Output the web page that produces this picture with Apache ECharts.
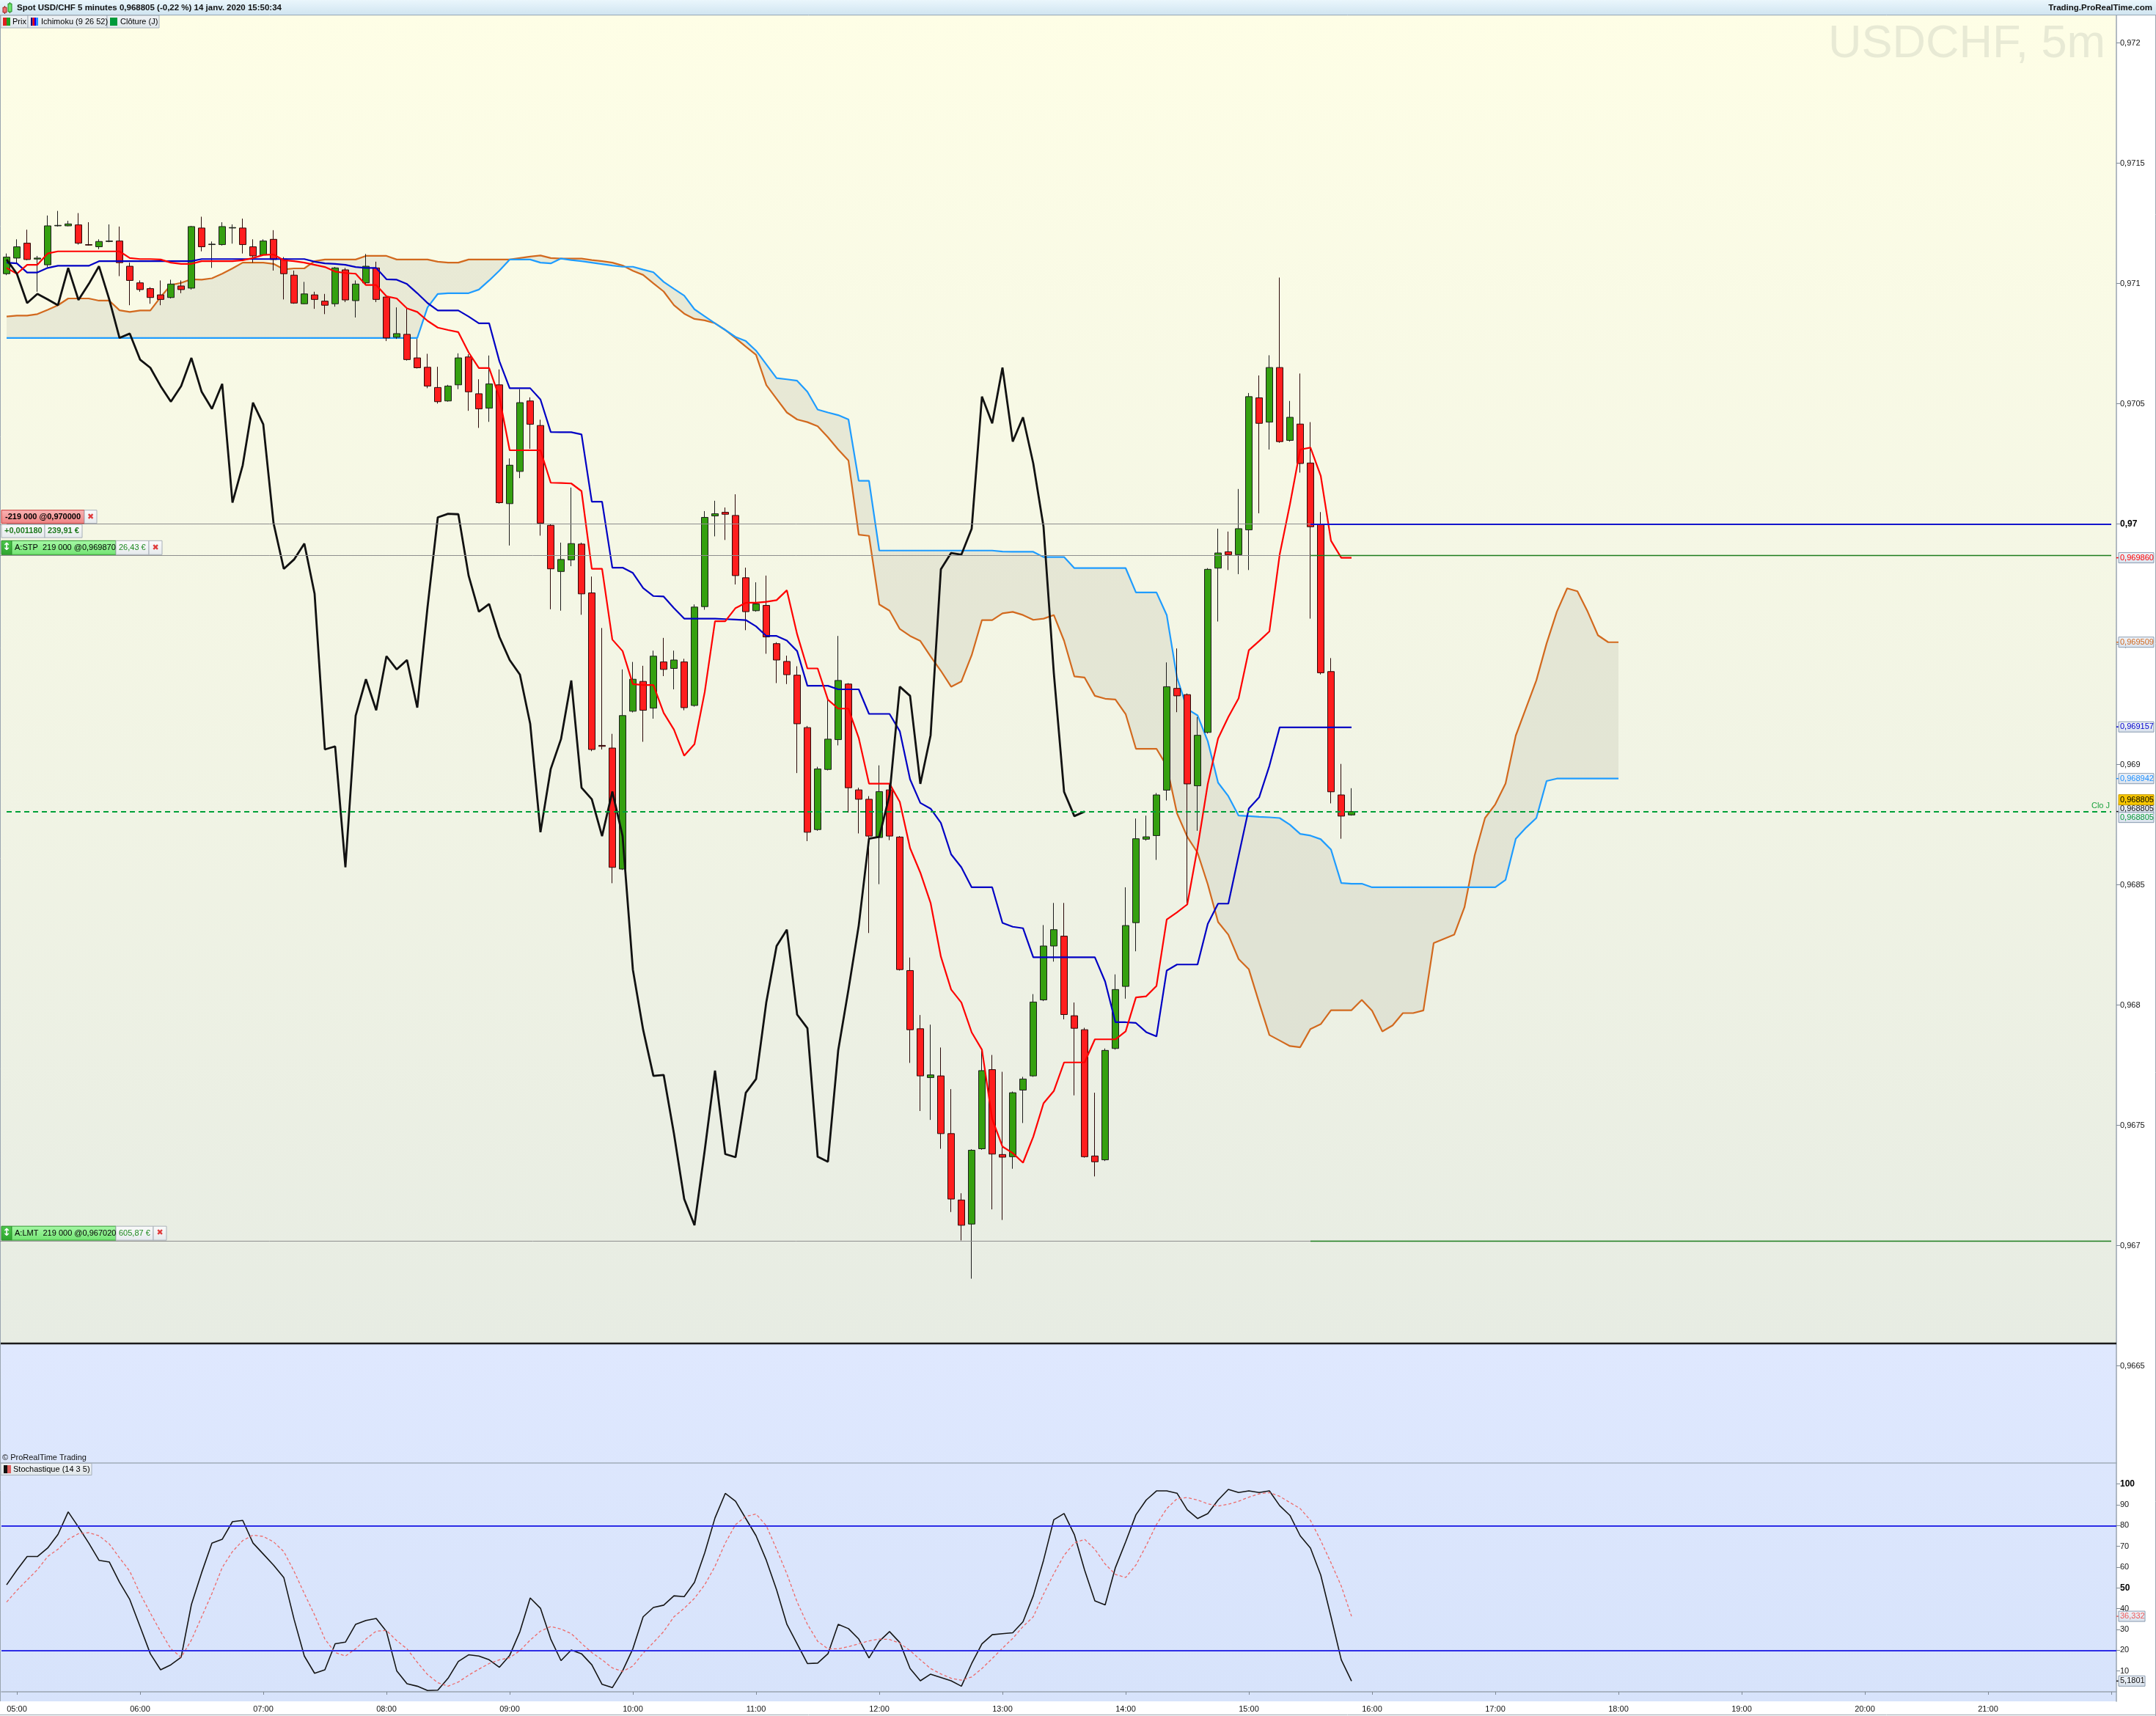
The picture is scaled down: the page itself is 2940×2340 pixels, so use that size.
<!DOCTYPE html>
<html><head><meta charset="utf-8">
<script src="https://cdn.jsdelivr.net/npm/echarts@6/dist/echarts.min.js"></script>
<style>html,body{margin:0;padding:0;background:#fff;}#c{width:2940px;height:2340px;}</style>
</head><body><div id="c"></div>
<script>
// ---------- DATA ----------
const opens = [0.971041,0.971106,0.971168,0.971102,0.971078,0.971240,0.971240,0.971244,0.971162,0.971153,0.971175,0.971177,
0.971072,0.971003,0.970979,0.970953,0.970942,0.970990,0.970981,0.971231,0.971162,0.971162,0.971231,0.971231,
0.971153,0.971119,0.971184,0.971102,0.971035,0.970916,0.970953,0.970927,0.970916,0.971057,0.970929,0.971003,
0.971065,0.970944,0.970777,0.970789,0.970691,0.970652,0.970568,0.970512,0.970579,0.970695,0.970542,0.970482,
0.970579,0.970085,0.970219,0.970512,0.970410,0.969995,0.969803,0.969851,0.969917,0.969714,0.969080,0.969069,
0.968566,0.969222,0.969346,0.969235,0.969427,0.969400,0.969427,0.969246,0.969657,0.970034,0.970049,0.970036,
0.969777,0.969640,0.969662,0.969503,0.969429,0.969372,0.969154,0.968730,0.968980,0.969104,0.969335,0.968895,
0.968856,0.968697,0.968895,0.968699,0.968144,0.967902,0.967699,0.967706,0.967466,0.967190,0.967090,0.967403,
0.967732,0.967379,0.967370,0.967647,0.967706,0.968022,0.968246,0.968287,0.967956,0.967898,0.967373,0.967357,
0.967820,0.968078,0.968343,0.968690,0.968705,0.968894,0.969317,0.969291,0.968912,0.969134,0.969817,0.969885,
0.969873,0.969976,0.970525,0.970424,0.970651,0.970348,0.970416,0.970254,0.969999,0.969387,0.968874,0.968791];
const closes = [0.971110,0.971153,0.971100,0.971106,0.971240,0.971242,0.971248,0.971168,0.971160,0.971175,0.971177,0.971087,
0.971013,0.970975,0.970942,0.970934,0.970998,0.970975,0.971237,0.971153,0.971164,0.971237,0.971233,0.971162,
0.971115,0.971177,0.971100,0.971041,0.970919,0.970957,0.970934,0.970910,0.971065,0.970932,0.970998,0.971072,
0.970934,0.970774,0.970792,0.970684,0.970650,0.970574,0.970509,0.970574,0.970691,0.970550,0.970479,0.970583,
0.970089,0.970245,0.970505,0.970415,0.970004,0.969814,0.969853,0.969919,0.969710,0.969063,0.969076,0.968573,
0.969204,0.969355,0.969226,0.969451,0.969396,0.969435,0.969237,0.969655,0.970028,0.970043,0.970041,0.969786,
0.969636,0.969668,0.969531,0.969435,0.969374,0.969170,0.968719,0.968982,0.969106,0.969350,0.968904,0.968856,
0.968703,0.968888,0.968703,0.968148,0.967898,0.967706,0.967710,0.967466,0.967194,0.967085,0.967397,0.967728,
0.967381,0.967368,0.967636,0.967693,0.968013,0.968246,0.968314,0.967961,0.967904,0.967370,0.967349,0.967812,
0.968065,0.968331,0.968692,0.968700,0.968874,0.969324,0.969286,0.968920,0.969122,0.969812,0.969880,0.969873,
0.969981,0.970530,0.970419,0.970651,0.970343,0.970444,0.970252,0.969989,0.969382,0.968887,0.968786,0.968805];
const lows = [0.971035,0.971087,0.971097,0.970966,0.971069,0.971237,0.971238,0.971162,0.971158,0.971143,0.971172,0.971031,
0.970910,0.970966,0.970916,0.970910,0.970938,0.970960,0.970975,0.971134,0.971065,0.971158,0.971166,0.971125,
0.971087,0.971115,0.971054,0.970934,0.970916,0.970914,0.970895,0.970873,0.970904,0.970923,0.970859,0.970998,
0.970923,0.970761,0.970770,0.970680,0.970647,0.970565,0.970501,0.970509,0.970561,0.970471,0.970400,0.970425,
0.970085,0.969911,0.970191,0.970313,0.969952,0.969646,0.969640,0.969825,0.969623,0.969056,0.969063,0.968507,
0.968562,0.969217,0.969095,0.969191,0.969368,0.969313,0.969226,0.969241,0.969644,0.969949,0.969934,0.969749,
0.969559,0.969636,0.969461,0.969339,0.969335,0.968965,0.968682,0.968725,0.968976,0.969080,0.968801,0.968714,
0.968300,0.968503,0.968686,0.968144,0.967760,0.967560,0.967523,0.967403,0.967140,0.967022,0.966863,0.967399,
0.967151,0.967107,0.967320,0.967510,0.967702,0.968017,0.968181,0.967941,0.967625,0.967366,0.967288,0.967352,
0.967815,0.968027,0.968224,0.968684,0.968604,0.968851,0.969218,0.968414,0.968725,0.969129,0.969595,0.969809,
0.969792,0.969809,0.970045,0.970310,0.970338,0.970343,0.970214,0.969607,0.969375,0.968839,0.968692,0.968788];
const highs = [0.971125,0.971184,0.971224,0.971115,0.971283,0.971302,0.971261,0.971293,0.971255,0.971184,0.971246,0.971237,
0.971087,0.971013,0.970985,0.971013,0.971016,0.971013,0.971240,0.971278,0.971175,0.971255,0.971246,0.971270,
0.971184,0.971184,0.971222,0.971110,0.971054,0.971007,0.970966,0.970957,0.971069,0.971065,0.971013,0.971123,
0.971091,0.970947,0.970901,0.970897,0.970770,0.970708,0.970654,0.970579,0.970710,0.970706,0.970602,0.970701,
0.970643,0.970273,0.970561,0.970527,0.970434,0.969999,0.969923,0.970152,0.969923,0.969782,0.969568,0.969128,
0.969396,0.969427,0.969411,0.969474,0.969527,0.969474,0.969440,0.969666,0.970054,0.970097,0.970069,0.970124,
0.969819,0.969758,0.969786,0.969509,0.969453,0.969409,0.969161,0.968991,0.969276,0.969535,0.969339,0.968904,
0.968869,0.968997,0.968921,0.968703,0.968198,0.967959,0.967919,0.967824,0.967651,0.967218,0.967401,0.967815,
0.967793,0.967723,0.967641,0.967702,0.968046,0.968333,0.968425,0.968425,0.968011,0.967906,0.967636,0.967820,
0.968128,0.968490,0.968776,0.968788,0.968882,0.969425,0.969483,0.969296,0.969198,0.969817,0.969981,0.969969,
0.970146,0.970545,0.970618,0.970702,0.971025,0.970512,0.970626,0.970424,0.970050,0.969443,0.969003,0.968902];

const tenkan = [0.971065,0.971041,0.971078,0.971078,0.971125,0.971134,0.971134,0.971134,0.971134,0.971134,0.971134,0.971134,
0.971106,0.971102,0.971102,0.971100,0.971087,0.971082,0.971082,0.971093,0.971093,0.971093,0.971093,0.971097,
0.971106,0.971119,0.971121,0.971097,0.971093,0.971087,0.971078,0.971069,0.971050,0.971044,0.971041,0.970994,
0.970994,0.970947,0.970938,0.970897,0.970882,0.970845,0.970817,0.970807,0.970798,0.970714,0.970649,0.970649,
0.970527,0.970307,0.970307,0.970307,0.970307,0.970172,0.970171,0.970169,0.970137,0.969814,0.969814,0.969520,
0.969472,0.969335,0.969331,0.969331,0.969215,0.969146,0.969037,0.969085,0.969302,0.969596,0.969596,0.969651,
0.969673,0.969673,0.969677,0.969684,0.969725,0.969542,0.969400,0.969400,0.969270,0.969233,0.969233,0.969111,
0.968921,0.968921,0.968921,0.968845,0.968653,0.968551,0.968425,0.968202,0.968065,0.968011,0.967887,0.967815,
0.967527,0.967412,0.967385,0.967345,0.967453,0.967592,0.967643,0.967762,0.967762,0.967762,0.967858,0.967858,
0.967858,0.967891,0.968032,0.968037,0.968080,0.968356,0.968386,0.968419,0.968654,0.968920,0.969109,0.969198,
0.969276,0.969476,0.969514,0.969554,0.969873,0.970082,0.970310,0.970318,0.970201,0.969931,0.969860,0.969860];
const kijun = [0.971087,0.971084,0.971046,0.971046,0.971065,0.971074,0.971074,0.971074,0.971074,0.971093,0.971093,0.971093,
0.971093,0.971093,0.971093,0.971093,0.971093,0.971093,0.971093,0.971102,0.971102,0.971102,0.971102,0.971102,
0.971102,0.971102,0.971102,0.971102,0.971102,0.971102,0.971091,0.971084,0.971082,0.971078,0.971069,0.971065,
0.971065,0.971018,0.971016,0.970998,0.970960,0.970919,0.970888,0.970888,0.970888,0.970863,0.970835,0.970835,
0.970677,0.970565,0.970565,0.970565,0.970518,0.970383,0.970382,0.970382,0.970373,0.970093,0.970093,0.969819,
0.969819,0.969797,0.969734,0.969701,0.969699,0.969651,0.969607,0.969607,0.969607,0.969607,0.969605,0.969603,
0.969601,0.969575,0.969535,0.969535,0.969516,0.969472,0.969328,0.969328,0.969328,0.969313,0.969313,0.969313,
0.969211,0.969211,0.969211,0.969139,0.968939,0.968841,0.968817,0.968758,0.968627,0.968573,0.968490,0.968490,
0.968490,0.968342,0.968326,0.968320,0.968199,0.968199,0.968199,0.968199,0.968199,0.968199,0.968199,0.968098,
0.967929,0.967929,0.967926,0.967888,0.967870,0.968144,0.968169,0.968169,0.968169,0.968338,0.968422,0.968422,
0.968621,0.968818,0.968864,0.968995,0.969155,0.969155,0.969155,0.969155,0.969155,0.969155,0.969155,0.969155];
const senkouA = [0.970863,0.970867,0.970867,0.970873,0.970891,0.970910,0.970938,0.970938,0.970938,0.970929,0.970929,0.970889,
0.970882,0.970888,0.970888,0.970944,0.970994,0.971003,0.971018,0.971016,0.971022,0.971041,0.971063,0.971087,
0.971087,0.971087,0.971082,0.971059,0.971063,0.971063,0.971093,0.971100,0.971100,0.971100,0.971100,0.971115,
0.971115,0.971115,0.971100,0.971100,0.971100,0.971100,0.971091,0.971087,0.971087,0.971100,0.971100,0.971100,
0.971100,0.971100,0.971106,0.971112,0.971117,0.971106,0.971104,0.971104,0.971104,0.971098,0.971093,0.971087,
0.971075,0.971053,0.971036,0.971001,0.970967,0.970910,0.970875,0.970853,0.970847,0.970835,0.970807,0.970773,
0.970738,0.970704,0.970578,0.970521,0.970464,0.970435,0.970424,0.970407,0.970361,0.970310,0.970264,0.969956,
0.969951,0.969666,0.969640,0.969564,0.969535,0.969514,0.969450,0.969390,0.969324,0.969346,0.969455,0.969601,
0.969601,0.969629,0.969635,0.969622,0.969602,0.969607,0.969622,0.969515,0.969367,0.969362,0.969286,0.969274,
0.969271,0.969210,0.969066,0.969066,0.969066,0.968995,0.968798,0.968700,0.968634,0.968502,0.968346,0.968293,
0.968192,0.968149,0.968010,0.967876,0.967853,0.967830,0.967825,0.967901,0.967921,0.967979,0.967979,0.967979,
0.968022,0.967977,0.967891,0.967916,0.967967,0.967967,0.967978,0.968258,0.968276,0.968293,0.968407,0.968624,
0.968778,0.968835,0.968921,0.969121,0.969236,0.969350,0.969504,0.969636,0.969733,0.969721,0.969636,0.969538,
0.969509,0.969509];
const senkouB = [0.970774,0.970774,0.970774,0.970774,0.970774,0.970774,0.970774,0.970774,0.970774,0.970774,0.970774,0.970774,
0.970774,0.970774,0.970774,0.970774,0.970774,0.970774,0.970774,0.970774,0.970774,0.970774,0.970774,0.970774,
0.970774,0.970774,0.970774,0.970774,0.970774,0.970774,0.970774,0.970774,0.970774,0.970774,0.970774,0.970774,
0.970774,0.970774,0.970774,0.970774,0.970774,0.970901,0.970957,0.970960,0.970960,0.970960,0.970975,0.971013,
0.971054,0.971100,0.971100,0.971100,0.971087,0.971084,0.971104,0.971098,0.971093,0.971087,0.971081,0.971075,
0.971070,0.971070,0.971058,0.971047,0.971007,0.970978,0.970950,0.970893,0.970864,0.970835,0.970807,0.970778,
0.970761,0.970721,0.970664,0.970607,0.970602,0.970596,0.970550,0.970476,0.970464,0.970453,0.970435,0.970180,
0.970180,0.969890,0.969890,0.969890,0.969890,0.969890,0.969890,0.969890,0.969890,0.969890,0.969890,0.969890,
0.969890,0.969886,0.969885,0.969885,0.969885,0.969863,0.969863,0.969863,0.969817,0.969817,0.969817,0.969817,
0.969817,0.969817,0.969716,0.969716,0.969716,0.969622,0.969362,0.969231,0.969205,0.969097,0.968925,0.968869,
0.968788,0.968786,0.968783,0.968781,0.968778,0.968750,0.968712,0.968705,0.968690,0.968647,0.968508,0.968505,
0.968505,0.968490,0.968490,0.968490,0.968490,0.968490,0.968490,0.968490,0.968490,0.968490,0.968490,0.968490,
0.968490,0.968490,0.968521,0.968692,0.968738,0.968778,0.968932,0.968942,0.968942,0.968942,0.968942,0.968942,
0.968942,0.968942];

const stochK = [51.5,58.6,65.1,65.1,69.2,75.7,86.6,79.3,71.6,63.3,62.5,52.7,
44.4,31.4,18.3,10.6,13.0,16.6,42.0,57.4,71.6,73.4,81.9,82.5,
71.6,66.3,61.0,55.0,34.9,17.2,8.9,10.6,23.1,23.9,32.5,34.3,
35.3,29.0,10.1,3.9,2.7,0.6,0.8,6.5,14.6,17.8,17.2,15.4,
11.8,17.5,29.0,45.2,40.2,25.4,15.0,20.1,18.3,13.0,3.6,2.0,
10.1,20.7,36.1,40.6,41.7,46.2,45.8,52.7,66.9,83.7,95.5,91.7,
83.4,75.1,63.3,49.1,32.5,23.1,13.6,13.8,18.3,32.5,30.4,25.4,
16.3,24.3,29.0,23.7,11.2,5.3,8.5,6.9,5.3,2.7,13.6,23.1,
27.5,28.0,28.4,33.7,46.2,63.3,82.8,85.8,75.7,58.6,43.8,41.8,
59.8,72.2,85.2,92.3,96.7,96.7,95.6,87.6,83.4,85.8,92.3,97.4,
95.9,96.7,95.9,96.7,89.6,84.9,75.1,69.2,56.2,36.1,15.4,5.1801];
const stochD = [43.2,48.8,53.8,58.8,65.1,68.6,73.4,76.1,76.6,75.1,71.2,64.5,
58.0,47.3,37.9,29.0,20.7,16.6,24.9,36.1,47.3,59.8,67.5,72.8,
75.4,74.8,72.2,67.5,58.0,47.3,37.0,25.4,18.9,17.2,20.7,25.4,
29.2,29.5,24.6,20.7,14.2,8.3,4.4,2.7,4.7,8.0,10.9,13.6,
15.4,16.4,19.8,24.9,29.2,31.4,30.2,28.0,23.3,18.9,15.4,11.5,
9.8,12.4,18.6,23.7,29.0,36.1,40.2,45.0,51.5,60.4,71.6,80.5,
84.4,85.6,79.9,68.6,56.8,43.2,32.5,24.3,20.7,20.7,21.7,23.1,
24.5,25.4,25.2,23.4,19.8,15.4,11.2,8.6,6.5,5.6,7.1,11.2,
16.0,21.0,25.7,31.4,36.1,47.0,56.8,65.7,71.6,73.4,68.6,61.5,
56.5,55.0,61.0,70.4,80.5,88.2,92.9,93.5,92.3,90.5,89.4,90.3,
91.7,93.7,95.3,95.9,94.1,91.1,88.2,82.5,72.8,62.1,50.9,36.332];

const priceTicks = [0.9665,0.967,0.9675,0.968,0.9685,0.969,0.9695,0.97,0.9705,0.971,0.9715,0.972];
const stochTicks = [10,20,30,40,50,60,70,80,90,100];
const orderLevels = {position:0.97, stop:0.96987, limit:0.96702, dayClose:0.968805};
const chikouShift = 26;

// time slots 04:55 .. 22:00 (5 minutes)
const times = [];
for (let m = 4*60+55; m <= 22*60; m += 5) {
  times.push(String(Math.floor(m/60)).padStart(2,'0') + ':' + String(m%60).padStart(2,'0'));
}
const candles = opens.map((o,i)=>[o, closes[i], lows[i], highs[i]]);
const chikou = closes.slice(chikouShift);

// ---------- CHART ----------
const F = 'Liberation Sans, Arial, sans-serif';
const chart = echarts.init(document.getElementById('c'), null, {width:2940, height:2340, renderer:'canvas'});
const fmtPrice = v => { const s = String(v).replace('.', ','); return Math.abs(v-0.97)<1e-9 ? '{b|'+s+'}' : s; };
const fmtStoch = v => (v===100||v===50) ? '{b|'+v+'}' : String(v);
const noSym = ['none','none'];
const first = times[0], last = times[times.length-1];
const hLine = (v, style) => [{coord:[first, v], lineStyle:style}, {coord:[last, v]}];

const option = {
  animation:false,
  backgroundColor:'#ffffff',
  grid:[{left:2,right:54,top:21,height:1974},{left:2,right:54,top:1995,height:325}],
  xAxis:[
    {type:'category',gridIndex:0,data:times,show:false,boundaryGap:true},
    {type:'category',gridIndex:1,data:times,boundaryGap:true,
     axisLine:{show:true,lineStyle:{color:'#9aa5b0',width:1.5}},
     axisTick:{show:true,alignWithLabel:true,length:4,interval:(i,v)=>v.endsWith(':00'),lineStyle:{color:'#7d8894'}},
     axisLabel:{interval:(i,v)=>v.endsWith(':00')&&v!=='22:00',color:'#111',fontSize:11,fontFamily:F,margin:5},
     splitLine:{show:false}}
  ],
  yAxis:[
    {type:'value',gridIndex:0,position:'right',min:0.9660966,max:0.9721149,splitLine:{show:false},
     axisLine:{show:true,lineStyle:{color:'#9aa5b0',width:1.5}},
     axisTick:{show:true,length:5,customValues:priceTicks,lineStyle:{color:'#7d8894'}},
     axisLabel:{customValues:priceTicks,formatter:fmtPrice,color:'#111',fontSize:11,fontFamily:F,margin:5,
       rich:{b:{fontWeight:'bold',fontSize:12,color:'#000',fontFamily:F}}}},
    {type:'value',gridIndex:1,position:'right',min:-4.59,max:110.13,splitLine:{show:false},
     axisLine:{show:true,lineStyle:{color:'#9aa5b0',width:1.5}},
     axisTick:{show:true,length:5,customValues:stochTicks,lineStyle:{color:'#7d8894'}},
     axisLabel:{customValues:stochTicks,formatter:fmtStoch,color:'#111',fontSize:11,fontFamily:F,margin:5,
       rich:{b:{fontWeight:'bold',fontSize:12,color:'#000',fontFamily:F}}}}
  ],
  series:[
    {type:'custom',name:'cloud',xAxisIndex:0,yAxisIndex:0,z:1,silent:true,data:[[0,senkouA[0]]],
     renderItem:function(params, api){
       const pts=[];
       for(let i=0;i<senkouA.length;i++) pts.push(api.coord([i,senkouA[i]]));
       for(let i=senkouB.length-1;i>=0;i--) pts.push(api.coord([i,senkouB[i]]));
       return {type:'polygon',shape:{points:pts},style:{fill:'rgba(190,190,172,0.28)'}};
     }},
    {type:'line',name:'SSA',xAxisIndex:0,yAxisIndex:0,data:senkouA,showSymbol:false,symbol:'none',z:2,silent:true,
     lineStyle:{color:'#d2691e',width:2.2}},
    {type:'line',name:'SSB',xAxisIndex:0,yAxisIndex:0,data:senkouB,showSymbol:false,symbol:'none',z:2,silent:true,
     lineStyle:{color:'#1e9cff',width:2.2}},
    {type:'candlestick',name:'Prix',xAxisIndex:0,yAxisIndex:0,data:candles,barWidth:10,z:3,silent:true,
     itemStyle:{color:'#35a010',color0:'#ff1e1e',borderColor:'#1c1c1c',borderColor0:'#2a0808',borderWidth:1}},
    {type:'line',name:'Kijun',xAxisIndex:0,yAxisIndex:0,data:kijun,showSymbol:false,symbol:'none',z:4,silent:true,
     lineStyle:{color:'#0000c4',width:2.2},
     markLine:{symbol:noSym,silent:true,animation:false,label:{show:false},
       data:[
         hLine(orderLevels.position,{color:'#8e8e8e',width:1,type:'solid'}),
         hLine(orderLevels.stop,{color:'#8e8e8e',width:1,type:'solid'}),
         hLine(orderLevels.limit,{color:'#8e8e8e',width:1,type:'solid'}),
         [{coord:[times[127],orderLevels.position],lineStyle:{color:'#1414cc',width:2.2,type:'solid'}},{coord:[last,orderLevels.position]}],
         [{coord:[times[127],orderLevels.stop],lineStyle:{color:'#1c7c1c',width:1.4,type:'solid'}},{coord:[last,orderLevels.stop]}],
         [{coord:[times[127],orderLevels.limit],lineStyle:{color:'#1c7c1c',width:1.4,type:'solid'}},{coord:[last,orderLevels.limit]}],
         [{coord:[first,orderLevels.dayClose],lineStyle:{color:'#00a038',width:2.2,type:[7,5]},
           label:{show:true,position:'insideEndTop',formatter:'Clo J',color:'#19a03c',fontSize:11,fontFamily:F,distance:2}},
          {coord:[last,orderLevels.dayClose]}]
       ]}},
    {type:'line',name:'Tenkan',xAxisIndex:0,yAxisIndex:0,data:tenkan,showSymbol:false,symbol:'none',z:4,silent:true,
     lineStyle:{color:'#ff0000',width:2.2}},
    {type:'line',name:'Chikou',xAxisIndex:0,yAxisIndex:0,data:chikou,showSymbol:false,symbol:'none',z:4,silent:true,
     lineStyle:{color:'#111111',width:2.8}},
    {type:'line',name:'%K',xAxisIndex:1,yAxisIndex:1,data:stochK,showSymbol:false,symbol:'none',z:4,silent:true,
     lineStyle:{color:'#151515',width:1.6},
     markLine:{symbol:noSym,silent:true,label:{show:false},lineStyle:{color:'#2c2ce6',width:2,type:'solid'},
       data:[{yAxis:80},{yAxis:20}]}},
    {type:'line',name:'%D',xAxisIndex:1,yAxisIndex:1,data:stochD,showSymbol:false,symbol:'none',z:4,silent:true,
     lineStyle:{color:'#ee6a6a',width:1.3,type:[4,3]}}
  ]
};
chart.setOption(option);

// ---------- decorations ----------
const P = v => chart.convertToPixel({yAxisIndex:0}, v);
const S = v => chart.convertToPixel({yAxisIndex:1}, v);
const G = (a,b) => new echarts.graphic.LinearGradient(0,0,0,1,[{offset:0,color:a},{offset:1,color:b}]);
const R = (x,y,w,h,fill,stroke,z) => ({type:'rect',z:(z==null?100:z),silent:true,shape:{x:x,y:y,width:w,height:h},style:{fill:fill,stroke:stroke||null,lineWidth:1}});
const L = (x1,y1,x2,y2,stroke,w,z) => ({type:'line',z:(z==null?100:z),silent:true,shape:{x1:x1,y1:y1,x2:x2,y2:y2},style:{stroke:stroke,lineWidth:w||1}});
const T = (x,y,text,o) => ({type:'text',z:(o&&o.z)||101,x:x,y:y,silent:true,style:Object.assign({text:text,font:'11px '+F,fill:'#000',textAlign:'left',textVerticalAlign:'middle'},o||{})});
const els = [];
// backgrounds
els.push(R(0,21,2886,1811,G('#fefee6','#e7ece3'),null,-10));
els.push(R(0,1832,2886,488,G('#dfe8fe','#d7e3fb'),null,-10));
els.push(L(0,1832,2886,1832,'#1a1a1a',2.5,5));
els.push(L(0,1995,2886,1995,'#a0acb8',1.5,5));
els.push(L(0.5,21,0.5,2320,'#9aa5b0',1,5));
els.push(L(0,2338.5,2940,2338.5,'#9aa5b0',1,5));
els.push(L(2939.5,0,2939.5,2340,'#9aa5b0',1,5));
// gray order lines reaching the left edge
[orderLevels.position, orderLevels.stop, orderLevels.limit].forEach(v=>{ const y=Math.round(P(v))+0.5; els.push(L(0,y,12,y,'#8e8e8e',1,6)); });
// watermark
els.push(T(2871,61,'USDCHF, 5m',{font:'63px '+F,fill:'#e8ead5',textAlign:'right',z:-5}));
// header
els.push(R(0,0,2940,21,G('#eaf6fc','#cfe4f0'),null,50));
els.push(L(0,20.5,2940,20.5,'#95a6b6',1,51));
els.push(L(6.5,8,6.5,19,'#7a1a1a',1,52));
els.push(R(4,10,5,7,'#f07272','#a82020',53));
els.push(L(13.5,3,13.5,18,'#1a6a1a',1,52));
els.push(R(11,5,5,11,'#6ee66e','#1f8a1f',53));
els.push(T(23,11,'Spot USD/CHF 5 minutes 0,968805 (-0,22 %) 14 janv. 2020 15:50:34',{font:'bold 11.5px '+F,fill:'#111',z:54}));
els.push(T(2935,11,'Trading.ProRealTime.com',{font:'bold 11.5px '+F,fill:'#111',textAlign:'right',z:54}));
// legend row
const lg = G('#f0f3f6','#dfe6ea');
els.push(R(1,21,37,17,lg,'#a6b0ba',60));
els.push(R(4,24,5,11,'#e02020',null,61)); els.push(R(9,24,5,11,'#20a020',null,61));
els.push(T(17,29.5,'Prix',{font:'11px '+F,z:62}));
els.push(R(38,21,108,17,lg,'#a6b0ba',60));
els.push(R(42,24,2.5,11,'#000080',null,61)); els.push(R(44.5,24,2.5,11,'#ff0000',null,61));
els.push(R(47,24,2.5,11,'#0000ff',null,61)); els.push(R(49.5,24,2.5,11,'#1e90ff',null,61));
els.push(T(56,29.5,'Ichimoku (9 26 52)',{font:'11px '+F,z:62}));
els.push(R(146,21,71,17,lg,'#a6b0ba',60));
els.push(R(150,24,10,11,'#009a3a',null,61));
els.push(T(164,29.5,'Clôture (J)',{font:'11px '+F,z:62}));
// order boxes (left)
const light = G('#fbfbfb','#e5e9ec');
const yA = P(orderLevels.position), yS = P(orderLevels.stop), yL = P(orderLevels.limit);
els.push(R(2,yA-19,113,18,G('#f8b4b4','#ee8282'),'#cc3b3b'));
els.push(T(7,yA-10,'-219 000 @0,970000',{font:'bold 11px '+F}));
els.push(R(115,yA-19,17,18,light,'#a8b0b8'));
els.push(T(123.5,yA-10,'✖',{font:'bold 11px DejaVu Sans',fill:'#e03c3c',textAlign:'center'}));
els.push(R(2,yA+0.5,59,18,light,'#a8b0b8'));
els.push(T(6,yA+9.5,'+0,001180',{font:'bold 11px '+F,fill:'#1f7a1f'}));
els.push(R(61,yA+0.5,51,18,light,'#a8b0b8'));
els.push(T(65,yA+9.5,'239,91 €',{font:'bold 11px '+F,fill:'#1f7a1f'}));
function orderRow(y, label, amount, wAmt){
  els.push(R(2,y-20,14,19,G('#4cc84c','#2ea42e'),'#2a8a2a'));
  els.push(T(9,y-10.5,'↕',{font:'bold 14px DejaVu Sans',fill:'#ffffff',textAlign:'center'}));
  els.push(R(16,y-20,142,19,G('#a6f8a6','#72e472'),'#2f9a2f'));
  els.push(T(20,y-10.5,label,{font:'11px '+F}));
  els.push(R(158,y-20,wAmt,19,light,'#a8b0b8'));
  els.push(T(162,y-10.5,amount,{font:'11px '+F,fill:'#1f8a1f'}));
  els.push(R(158+wAmt,y-20,18,19,light,'#a8b0b8'));
  els.push(T(167+wAmt,y-10.5,'✖',{font:'bold 11px DejaVu Sans',fill:'#e03c3c',textAlign:'center'}));
}
orderRow(yS,'A:STP  219 000 @0,969870','26,43 €',45);
orderRow(yL,'A:LMT  219 000 @0,967020','605,87 €',51);
// right axis value boxes
const boxFill = G('#f2f5fa','#d8e1ec');
function vbox(y, text, color, fill, stroke, w){
  els.push(R(2889,y-7,w||48,14,fill||boxFill,stroke||'#8a9bb0',110));
  els.push(T(2891,y,text,{font:'11px '+F,fill:color,z:111}));
}
const rightVals = [[0.96986,'0,969860','#ff0000'],[0.969509,'0,969509','#d2691e'],[0.969157,'0,969157','#0000cc'],[0.968942,'0,968942','#1e90ff']];
rightVals.forEach(r=>{ const y=P(r[0]); els.push(L(2886,y,2890,y,r[2],1.5,109)); vbox(y,r[1],r[2]); });
const yc = P(orderLevels.dayClose);
els.push(L(2886,yc,2890,yc,'#111',1.5,109));
vbox(yc-4,'0,968805','#111');
vbox(yc-16,'0,968805','#000','#f7c600','#c49a00');
vbox(yc+8,'0,968805','#0a9a3a');
// stochastic panel texts
els.push(T(3,1988,'© ProRealTime Trading',{font:'11px '+F,fill:'#111',z:60}));
els.push(R(1,1995.5,124,16,lg,'#a6b0ba',60));
els.push(R(5,1998,5,11,'#111',null,61)); els.push(R(10,1998,5,11,'#e06060',null,61));
els.push(T(18,2003.5,'Stochastique (14 3 5)',{font:'11px '+F,z:62}));
const sD = S(stochD[stochD.length-1]), sK = S(stochK[stochK.length-1]);
els.push(L(2886,sD,2890,sD,'#e06060',1.5,109)); vbox(sD,'36,332','#ee5a5a',null,null,36);
els.push(L(2886,sK,2890,sK,'#111',1.5,109)); vbox(sK,'5,1801','#111',null,null,36);

chart.setOption({graphic:{elements:els}});
</script>
</body></html>
